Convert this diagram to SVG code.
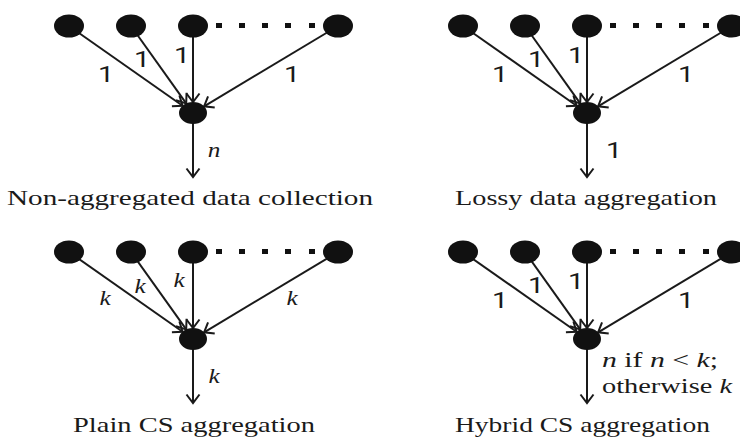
<svg xmlns="http://www.w3.org/2000/svg" width="740" height="437" viewBox="0 0 740 437">
  <style>
    .node { fill: #111; }
    .dot { fill: #111; }
    .edge { stroke: #1a1a1a; stroke-width: 2; fill: none; marker-end: url(#arrow); }
    text { fill: #1a1a1a; }
    .sans { font-family: Roboto, 'Liberation Sans', Arial, sans-serif; font-size: 22px; }
    .serif { font-family: 'Liberation Serif', 'Times New Roman', 'DejaVu Serif', serif; font-size: 21px; }
    .num { text-anchor: middle; }
    .var { font-style: italic; text-anchor: middle; }
    .it { font-style: italic; }
  </style>
  <defs>
    <marker id="arrow" viewBox="-10 -10 20 20" refX="0" refY="0" markerWidth="20" markerHeight="20" markerUnits="userSpaceOnUse" orient="auto">
      <path d="M-8.5,-6.5 L0,0 L-8.5,6.5" fill="none" stroke="#1a1a1a" stroke-width="2"/>
    </marker>
    <!-- one fan-in tree: four sources, sink, outgoing link -->
    <g id="edges-tpl">
      <line class="edge" x1="69" y1="26" x2="182.6" y2="105.7"/>
      <line class="edge" x1="131" y1="26" x2="186.2" y2="103.4"/>
      <line class="edge" x1="193" y1="26" x2="193" y2="102"/>
      <line class="edge" x1="338" y1="26" x2="204.1" y2="106.3"/>
      <line class="edge" x1="193" y1="113" x2="193" y2="177"/>
    </g>
    <g id="dots-tpl">
      <rect class="dot" x="216" y="23" width="6" height="5"/>
      <rect class="dot" x="239" y="23" width="6" height="5"/>
      <rect class="dot" x="262" y="23" width="6" height="5"/>
      <rect class="dot" x="285" y="23" width="6" height="5"/>
      <rect class="dot" x="309" y="23" width="6" height="5"/>
    </g>
  </defs>

  <!-- connectors of all four trees -->
  <g id="connectors">
    <use href="#edges-tpl"/>
    <use href="#edges-tpl" transform="translate(394,0)"/>
    <use href="#edges-tpl" transform="translate(0,226)"/>
    <use href="#edges-tpl" transform="translate(394,226)"/>
    <use href="#dots-tpl"/>
    <use href="#dots-tpl" transform="translate(394,0)"/>
    <use href="#dots-tpl" transform="translate(0,226)"/>
    <use href="#dots-tpl" transform="translate(394,226)"/>
  </g>

  <!-- Non-aggregated data collection -->
  <g id="tree-a">
    <g id="a-s1"><ellipse class="node" cx="69" cy="26" rx="15" ry="11.5"/></g>
    <g id="a-s2"><ellipse class="node" cx="131" cy="26" rx="15" ry="11.5"/></g>
    <g id="a-s3"><ellipse class="node" cx="193" cy="26" rx="15" ry="11.5"/></g>
    <g id="a-s4"><ellipse class="node" cx="338" cy="26" rx="15" ry="11.5"/></g>
    <g id="a-sink"><ellipse class="node" cx="193" cy="113" rx="14" ry="11"/></g>
    <text class="sans num" transform="translate(106,82) scale(1.3,1)">1</text>
    <text class="sans num" transform="translate(142,67) scale(1.3,1)">1</text>
    <text class="sans num" transform="translate(182,63) scale(1.3,1)">1</text>
    <text class="sans num" transform="translate(292,82) scale(1.3,1)">1</text>
    <text class="serif var" transform="translate(214,157) scale(1.2,1)">n</text>
    <text class="serif" x="7" y="205" textLength="366" lengthAdjust="spacingAndGlyphs">Non-aggregated data collection</text>
  </g>

  <!-- Lossy data aggregation -->
  <g id="tree-b">
    <g id="b-s1"><ellipse class="node" cx="463" cy="26" rx="15" ry="11.5"/></g>
    <g id="b-s2"><ellipse class="node" cx="525" cy="26" rx="15" ry="11.5"/></g>
    <g id="b-s3"><ellipse class="node" cx="587" cy="26" rx="15" ry="11.5"/></g>
    <g id="b-s4"><ellipse class="node" cx="732" cy="26" rx="15" ry="11.5"/></g>
    <g id="b-sink"><ellipse class="node" cx="587" cy="113" rx="14" ry="11"/></g>
    <text class="sans num" transform="translate(500,82) scale(1.3,1)">1</text>
    <text class="sans num" transform="translate(536,67) scale(1.3,1)">1</text>
    <text class="sans num" transform="translate(576,63) scale(1.3,1)">1</text>
    <text class="sans num" transform="translate(686,82) scale(1.3,1)">1</text>
    <text class="sans num" transform="translate(614,158) scale(1.3,1)">1</text>
    <text class="serif" x="455" y="205" textLength="262" lengthAdjust="spacingAndGlyphs">Lossy data aggregation</text>
  </g>

  <!-- Plain CS aggregation -->
  <g id="tree-c">
    <g id="c-s1"><ellipse class="node" cx="69" cy="252" rx="15" ry="11.5"/></g>
    <g id="c-s2"><ellipse class="node" cx="131" cy="252" rx="15" ry="11.5"/></g>
    <g id="c-s3"><ellipse class="node" cx="193" cy="252" rx="15" ry="11.5"/></g>
    <g id="c-s4"><ellipse class="node" cx="338" cy="252" rx="15" ry="11.5"/></g>
    <g id="c-sink"><ellipse class="node" cx="193" cy="339" rx="14" ry="11"/></g>
    <text class="serif var" transform="translate(105,305) scale(1.2,1)">k</text>
    <text class="serif var" transform="translate(140,293) scale(1.2,1)">k</text>
    <text class="serif var" transform="translate(179,287) scale(1.2,1)">k</text>
    <text class="serif var" transform="translate(292,305) scale(1.2,1)">k</text>
    <text class="serif var" transform="translate(214,383) scale(1.2,1)">k</text>
    <text class="serif" x="73" y="432" textLength="242" lengthAdjust="spacingAndGlyphs">Plain CS aggregation</text>
  </g>

  <!-- Hybrid CS aggregation -->
  <g id="tree-d">
    <g id="d-s1"><ellipse class="node" cx="463" cy="252" rx="15" ry="11.5"/></g>
    <g id="d-s2"><ellipse class="node" cx="525" cy="252" rx="15" ry="11.5"/></g>
    <g id="d-s3"><ellipse class="node" cx="587" cy="252" rx="15" ry="11.5"/></g>
    <g id="d-s4"><ellipse class="node" cx="732" cy="252" rx="15" ry="11.5"/></g>
    <g id="d-sink"><ellipse class="node" cx="587" cy="339" rx="14" ry="11"/></g>
    <text class="sans num" transform="translate(500,308) scale(1.3,1)">1</text>
    <text class="sans num" transform="translate(536,293) scale(1.3,1)">1</text>
    <text class="sans num" transform="translate(576,289) scale(1.3,1)">1</text>
    <text class="sans num" transform="translate(686,308) scale(1.3,1)">1</text>
    <text class="serif" x="602" y="367" textLength="116" lengthAdjust="spacingAndGlyphs"><tspan class="it">n</tspan> if <tspan class="it">n</tspan> &lt; <tspan class="it">k</tspan>;</text>
    <text class="serif" x="602" y="393" textLength="130" lengthAdjust="spacingAndGlyphs">otherwise <tspan class="it">k</tspan></text>
    <text class="serif" x="455" y="432" textLength="255" lengthAdjust="spacingAndGlyphs">Hybrid CS aggregation</text>
  </g>
</svg>
